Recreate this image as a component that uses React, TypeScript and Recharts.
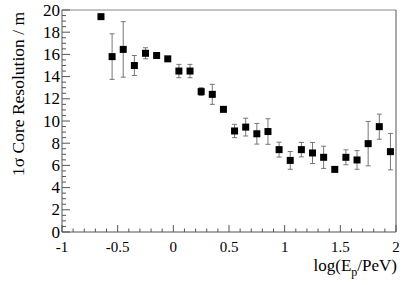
import { ComposedChart, ErrorBar, Label, ReferenceLine, Scatter, XAxis, YAxis } from 'recharts';

const logEnergy = [-0.65, -0.55, -0.45, -0.35, -0.25, -0.15, -0.05, 0.05, 0.15, 0.25, 0.35, 0.45, 0.55, 0.65, 0.75, 0.85, 0.95, 1.05, 1.15, 1.25, 1.35, 1.45, 1.55, 1.65, 1.75, 1.85, 1.95];
const resolution = [19.4, 15.8, 16.45, 15.0, 16.1, 15.9, 15.6, 14.5, 14.5, 12.65, 12.4, 11.05, 9.1, 9.45, 8.85, 9.05, 7.42, 6.45, 7.42, 7.12, 6.73, 5.64, 6.73, 6.49, 7.96, 9.49, 7.24];
const resolutionErr = [0.1, 2.05, 2.5, 0.9, 0.5, 0.2, 0.2, 0.6, 0.6, 0.35, 0.9, 0.2, 0.6, 0.8, 0.93, 1.15, 0.67, 0.8, 0.65, 0.95, 1.0, 0.1, 0.67, 0.84, 2.0, 1.13, 1.64];

const xTicks = [-1, -0.9, -0.8, -0.7, -0.6, -0.5, -0.4, -0.3, -0.2, -0.1, 0, 0.1, 0.2, 0.3, 0.4, 0.5, 0.6, 0.7, 0.8, 0.9, 1, 1.1, 1.2, 1.3, 1.4, 1.5, 1.6, 1.7, 1.8, 1.9, 2];
const yTicks = [0, 0.5, 1, 1.5, 2, 2.5, 3, 3.5, 4, 4.5, 5, 5.5, 6, 6.5, 7, 7.5, 8, 8.5, 9, 9.5, 10, 10.5, 11, 11.5, 12, 12.5, 13, 13.5, 14, 14.5, 15, 15.5, 16, 16.5, 17, 17.5, 18, 18.5, 19, 19.5, 20];
const yMajorStep = 2;
const xMajorStep = 0.5;

const data = logEnergy.map((x, i) => ({ x, y: resolution[i], err: resolutionErr[i] }));

const font = "'Liberation Serif', 'Times New Roman', serif";
const textStyle = { fontFamily: font };
const axisColor = '#555';

const isMajor = (v: number, step: number) => Math.abs(v / step - Math.round(v / step)) < 1e-6;

function XTick(props: any) {
  const { x, y, payload } = props;
  const v = Number(payload.value);
  const major = isMajor(v, xMajorStep);
  return (
    <g>
      <line x1={x} x2={x} y1={y} y2={y - (major ? 7 : 3.5)} stroke={axisColor} strokeWidth={1} />
      {major && (
        <text x={x} y={y + 20} textAnchor="middle" style={textStyle} fontSize={15} fill="#000">
          {String(v)}
        </text>
      )}
    </g>
  );
}

function YTick(props: any) {
  const { x, y, payload } = props;
  const v = Number(payload.value);
  const major = isMajor(v, yMajorStep);
  return (
    <g>
      <line x1={x} x2={x + (major ? 8 : 4)} y1={y} y2={y} stroke={axisColor} strokeWidth={1} />
      {major && (
        <text x={x - 2} y={y + 5.5} textAnchor="end" style={textStyle} fontSize={17} fill="#000">
          {String(v)}
        </text>
      )}
    </g>
  );
}

const SquareMarker = (props: any) => (
  <rect x={props.cx - 3.5} y={props.cy - 3.5} width={7} height={7} fill="#000" />
);

export default function App() {
  return (
    <div style={{ position: 'absolute', left: 0, top: 0, width: 409, height: 285, background: '#fff' }}>
      <ComposedChart width={409} height={285} data={data} margin={{ top: 10, right: 13, left: 0, bottom: 0 }}>
        <XAxis
          dataKey="x"
          type="number"
          domain={[-1, 2]}
          ticks={xTicks}
          interval={0}
          tickSize={0}
          tickMargin={0}
          tickLine={false}
          tick={<XTick />}
          height={53}
          axisLine={{ stroke: axisColor }}
        >
          <Label
            content={() => (
              <text x={397} y={271} textAnchor="end" style={textStyle} fontSize={17} fill="#000">
                log(E
                <tspan dy={5} fontSize={12}>p</tspan>
                <tspan dy={-5}>/PeV)</tspan>
              </text>
            )}
          />
        </XAxis>
        <YAxis
          type="number"
          domain={[0, 20]}
          ticks={yTicks}
          interval={0}
          tickSize={0}
          tickMargin={0}
          tickLine={false}
          tick={<YTick />}
          width={62}
          axisLine={{ stroke: axisColor }}
        >
          <Label
            content={() => (
              <text x={24} y={12} transform="rotate(-90 24 12)" textAnchor="end" style={textStyle} fontSize={17.5} fill="#000">
                1σ Core Resolution / m
              </text>
            )}
          />
        </YAxis>
        <ReferenceLine y={20} stroke="#888" />
        <ReferenceLine x={2} stroke={axisColor} />
        <Scatter dataKey="y" shape={SquareMarker} isAnimationActive={false}>
          <ErrorBar dataKey="err" direction="y" width={2.5} stroke="#777" strokeWidth={1} isAnimationActive={false} />
        </Scatter>
      </ComposedChart>
    </div>
  );
}
